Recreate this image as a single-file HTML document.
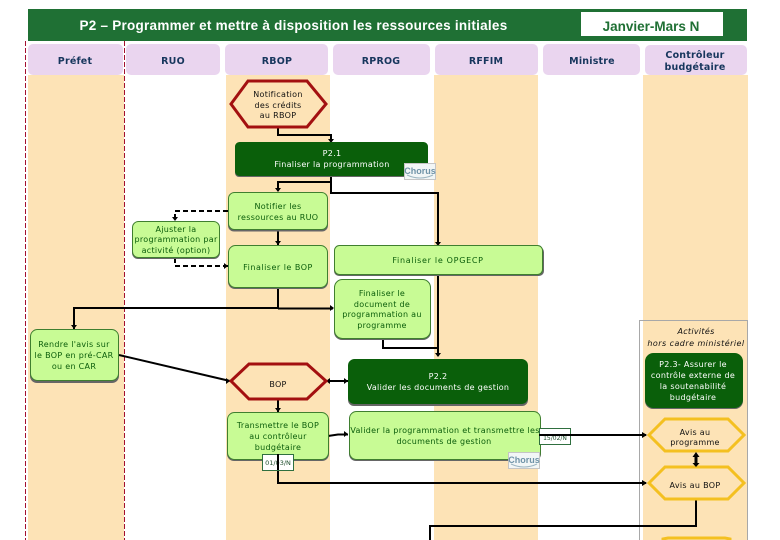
<!DOCTYPE html>
<html lang="fr"><head><meta charset="utf-8"><title>P2</title>
<style>
html,body{margin:0;padding:0;background:#fff;width:780px;height:540px;overflow:hidden}
svg{display:block}
text{font-family:"DejaVu Sans","Liberation Sans",sans-serif;font-size:8px;text-anchor:middle;letter-spacing:.3px}
.hd{font-family:"DejaVu Sans",sans-serif;font-size:9.5px;font-weight:bold;fill:#17365d;letter-spacing:.2px}
.g{fill:#0b5d0b}.w{fill:#fff}.k{fill:#111}
.box{fill:#c8fb95;stroke:#3f7f2f;stroke-width:1}
.sh{fill:#666}
.dk{fill:#0a5f0a;stroke:#0a5f0a}
.ln{fill:none;stroke:#000;stroke-width:2}
.dsh{fill:none;stroke:#000;stroke-width:2;stroke-dasharray:5 3}
.red{fill:none;stroke:#a31010;stroke-width:3}
.yel{fill:none;stroke:#f4c020;stroke-width:3}
.ch{font-size:9px;font-weight:bold;fill:#6f93a8;font-family:"Liberation Sans",sans-serif;letter-spacing:0}
</style></head><body>
<svg width="780" height="540" viewBox="0 0 780 540" xmlns="http://www.w3.org/2000/svg">
<rect width="780" height="540" fill="#fff"/>
<!-- bands -->
<g fill="#fde3b6">
<rect x="28" y="75" width="96" height="465"/>
<rect x="226" y="75" width="104" height="465"/>
<rect x="434" y="75" width="104" height="465"/>
<rect x="643" y="75" width="105" height="465"/>
</g>
<!-- header -->
<rect x="28" y="9" width="719" height="32" fill="#1f7034"/>
<rect x="581" y="12" width="142" height="24" fill="#fff"/>
<text x="293.500" y="30" style="font-family:'Liberation Sans',sans-serif;font-size:13.5px;font-weight:bold;letter-spacing:.25px" fill="#fff">P2 – Programmer et mettre à disposition les ressources initiales</text>
<text x="651" y="31" style="font-family:'Liberation Sans',sans-serif;font-size:13.5px;font-weight:bold;letter-spacing:0" fill="#1f7034">Janvier-Mars N</text>
<!-- column headers -->
<g fill="#ead5ef">
<rect x="28" y="44" width="95" height="31" rx="5"/>
<rect x="126" y="44" width="94" height="31" rx="5"/>
<rect x="225" y="44" width="103" height="31" rx="5"/>
<rect x="333" y="44" width="97" height="31" rx="5"/>
<rect x="435" y="44" width="103" height="31" rx="5"/>
<rect x="543" y="44" width="97" height="31" rx="5"/>
<rect x="645" y="45" width="102" height="30" rx="5"/>
</g>
<text class="hd" x="75" y="64">Préfet</text>
<text class="hd" x="173" y="64">RUO</text>
<text class="hd" x="277" y="64">RBOP</text>
<text class="hd" x="381" y="64">RPROG</text>
<text class="hd" x="486" y="64">RFFIM</text>
<text class="hd" x="592" y="64">Ministre</text>
<text class="hd" x="695" y="58">Contrôleur</text>
<text class="hd" x="695" y="70">budgétaire</text>
<!-- dashed red -->
<path d="M25.500 41V540M124.500 41V540" fill="none" stroke="#a31030" stroke-width="1" stroke-dasharray="5 2"/>
<!-- activity frame -->
<rect x="639.500" y="320.500" width="108" height="225" fill="none" stroke="#a8a8a8" stroke-width="1"/>
<!-- connectors -->
<path class="ln" d="M278 127V135H331V141"/>
<path class="ln" d="M331 175V182H278V191"/>
<path class="ln" d="M331 175V193H438V244"/>
<path class="ln" d="M278 230V245"/>
<path class="ln" d="M278 288V308.500M74 329V308H278M278 308.500H333"/>
<path class="ln" d="M438 275V356"/>
<path class="ln" d="M383 339V348H438"/>
<path class="ln" d="M119 355L230 381"/>
<path class="ln" d="M326 381H348"/>
<path class="ln" d="M278 400V412"/>
<path class="ln" d="M328 436L338 434.500H348"/>
<path class="ln" d="M278 454V483H646"/>
<path class="ln" d="M696 499V526H430V540"/>
<path class="dsh" d="M228 211H175V221"/>
<path class="dsh" d="M175 258V266H228"/>
<!-- arrowheads -->
<g fill="#000">
<path d="M328 139h6l-3 4z"/><path d="M275 188h6l-3 4z"/><path d="M435 242h6l-3 4z"/>
<path d="M275 241h6l-3 4z"/><path d="M71 325h6l-3 4z"/><path d="M330 305v6l4-3z"/>
<path d="M435 353h6l-3 4z"/><path d="M226 378v6l4-3z"/><path d="M330 378v6l-4-3z"/>
<path d="M344 378v6l4-3z"/><path d="M275 408h6l-3 4z"/><path d="M344 431v6l4-3z"/>
<path d="M642 480v6l5-3z"/><path d="M642 432v6l5-3z"/>
<path d="M172 217h6l-3 4z"/><path d="M224 263v6l4-3z"/>
</g>
<!-- hexes -->
<polygon class="red" points="231,104 248,81 307,81 326,104 307,127 248,127" style="fill:#fde3b6"/>
<polygon class="red" points="231,381 249,364 307,364 326,381 307,399 249,399" style="fill:#fde3b6"/>
<polygon class="yel" points="649,435 665,419 728,419 744,435 728,451 665,451"/>
<polygon class="yel" points="649,483 665,467 728,467 744,483 728,499 665,499"/>
<path class="yel" d="M663 540V539L668 538H725L730 539V540"/>
<text class="k" x="278" y="97">Notification</text>
<text class="k" x="278" y="108">des crédits</text>
<text class="k" x="278" y="118">au RBOP</text>
<text class="k" x="278" y="387">BOP</text>
<text class="k" x="695" y="435">Avis au</text>
<text class="k" x="695" y="445">programme</text>
<text class="k" x="695" y="488">Avis au BOP</text>
<!-- double arrow -->
<path d="M696 452l-3.500 5h2v6h-2l3.500 4 3.500-4h-2v-6h2z" fill="#000"/>
<!-- dark boxes -->
<rect class="sh" x="235" y="144" width="193" height="33" rx="4"/>
<rect class="dk" x="235.500" y="142.500" width="192" height="33" rx="4"/>
<text class="w" x="332" y="156">P2.1</text>
<text class="w" x="332" y="167">Finaliser la programmation</text>
<rect class="sh" x="348" y="361" width="180" height="45" rx="6"/>
<rect class="dk" x="348.500" y="359.500" width="179" height="44" rx="6"/>
<text class="w" x="438" y="379">P2.2</text>
<text class="w" x="438" y="390">Valider les documents de gestion</text>
<rect class="sh" x="645" y="355" width="98" height="54" rx="8"/>
<rect class="dk" x="645.500" y="353.500" width="97" height="54" rx="8"/>
<text class="w" x="693" y="367">P2.3- Assurer le</text>
<text class="w" x="693" y="378">contrôle externe de</text>
<text class="w" x="693" y="389">la soutenabilité</text>
<text class="w" x="693" y="400">budgétaire</text>
<!-- green boxes -->
<g>
<rect class="sh" x="228" y="194" width="100" height="37.500" rx="6"/>
<rect class="box" x="228.500" y="192.500" width="99" height="37" rx="6"/>
<rect class="sh" x="132" y="223" width="88" height="36" rx="6"/>
<rect class="box" x="132.500" y="221.500" width="87" height="36" rx="6"/>
<rect class="sh" x="228" y="247" width="100" height="42" rx="7"/>
<rect class="box" x="228.500" y="245.500" width="99" height="42" rx="7"/>
<rect class="sh" x="334" y="247" width="210" height="29" rx="5"/>
<rect class="box" x="334.500" y="245.500" width="208" height="29" rx="5"/>
<rect class="sh" x="334" y="281" width="97" height="59" rx="8"/>
<rect class="box" x="334.500" y="279.500" width="96" height="59" rx="8"/>
<rect class="sh" x="30" y="331" width="89" height="52" rx="7"/>
<rect class="box" x="30.500" y="329.500" width="88" height="51" rx="7"/>
<rect class="sh" x="227" y="414" width="102" height="47" rx="7"/>
<rect class="box" x="227.500" y="412.500" width="101" height="47" rx="7"/>
<rect class="sh" x="349" y="413" width="192" height="48" rx="7"/>
<rect class="box" x="349.500" y="411.500" width="191" height="48" rx="7"/>
</g>
<g class="g">
<text class="g" x="278" y="209">Notifier les</text>
<text class="g" x="278" y="220">ressources au RUO</text>
<text class="g" x="176" y="232">Ajuster la</text>
<text class="g" x="176" y="242">programmation par</text>
<text class="g" x="176" y="253">activité (option)</text>
<text class="g" x="278" y="270" style="letter-spacing:.5px">Finaliser le BOP</text>
<text class="g" x="438" y="263" style="letter-spacing:.7px">Finaliser le OPGECP</text>
<text class="g" x="382" y="296">Finaliser le</text>
<text class="g" x="382" y="307">document de</text>
<text class="g" x="382" y="317">programmation au</text>
<text class="g" x="382" y="328">programme</text>
<text class="g" x="74" y="347">Rendre l'avis sur</text>
<text class="g" x="74" y="358">le BOP en pré-CAR</text>
<text class="g" x="74" y="369">ou en CAR</text>
<text class="g" x="278" y="428">Transmettre le BOP</text>
<text class="g" x="278" y="439">au contrôleur</text>
<text class="g" x="278" y="450">budgétaire</text>
<text class="g" x="445" y="433">Valider la programmation et transmettre les</text>
<text class="g" x="444" y="444">documents de gestion</text>
</g>
<!-- date tags -->
<rect x="262.500" y="454.500" width="31" height="16" fill="#fff" stroke="#2f6f3f"/>
<text style="font-size:6.500px;letter-spacing:0" x="278" y="465" fill="#1d4d2a">01/03/N</text>
<path class="ln" d="M278 454V470"/>
<rect x="539.500" y="428.500" width="31" height="16" fill="#fff" stroke="#2f6f3f"/>
<text style="font-size:6px;letter-spacing:0" x="555" y="440" fill="#1d4d2a">15/02/N</text>
<path class="ln" d="M539 435H646"/>
<!-- chorus -->
<rect x="404.500" y="163.500" width="31" height="16" fill="#f2f6f6" stroke="#c5c5c5"/>
<text class="ch" x="420" y="174">Chorus</text>
<path d="M407 175Q420 181 433 175" fill="none" stroke="#9db6c2"/>
<rect x="508.500" y="452.500" width="31" height="16" fill="#f2f6f6" stroke="#c5c5c5"/>
<text class="ch" x="524" y="463">Chorus</text>
<path d="M511 464Q524 470 537 464" fill="none" stroke="#9db6c2"/>
<!-- activities label -->
<text class="k" x="696" y="334" style="font-style:italic">Activités</text>
<text class="k" x="696" y="346" style="font-style:italic;letter-spacing:.45px">hors cadre ministériel</text>
</svg>
</body></html>
